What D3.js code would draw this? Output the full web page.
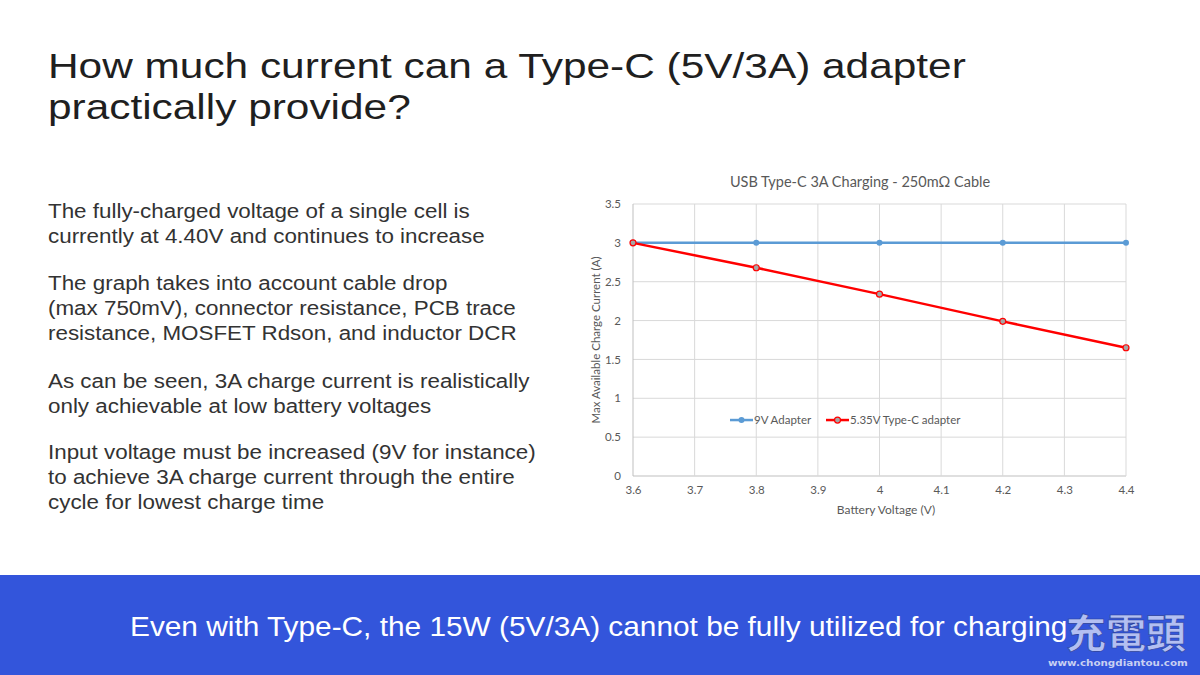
<!DOCTYPE html>
<html>
<head>
<meta charset="utf-8">
<script src="https://cdn.jsdelivr.net/npm/d3@7"></script>
<style>
  html, body { margin: 0; padding: 0; background: #fff; }
  svg { display: block; }
</style>
</head>
<body>
<div id="slide"></div>
<script>
// Datos de la gráfica
const batteryVoltage = [3.6, 3.8, 4.0, 4.2, 4.4];
const adapter9V = [3, 3, 3, 3, 3];
const adapterTypeC = [3, 2.68, 2.34, 1.99, 1.65];
const seriesNames = ["9V Adapter", "5.35V Type-C adapter"];
const xTicks = [3.6, 3.7, 3.8, 3.9, 4.0, 4.1, 4.2, 4.3, 4.4];
const yTicks = [0, 0.5, 1, 1.5, 2, 2.5, 3, 3.5];

const titleLines = ["How much current can a Type-C (5V/3A) adapter", "practically provide?"];
const bodyParagraphs = [
    ["The fully-charged voltage of a single cell is", "currently at 4.40V and continues to increase"],
    ["The graph takes into account cable drop", "(max 750mV), connector resistance, PCB trace", "resistance, MOSFET Rdson, and inductor DCR"],
    ["As can be seen, 3A charge current is realistically", "only achievable at low battery voltages"],
    ["Input voltage must be increased (9V for instance)", "to achieve 3A charge current through the entire", "cycle for lowest charge time"]
];
const footerText = "Even with Type-C, the 15W (5V/3A) cannot be fully utilized for charging";

const W = 1200, H = 675;
const slideFont = "Liberation Sans, Arial, sans-serif";
const svg = d3.select("#slide").append("svg").attr("width", W).attr("height", H);

// Estira horizontalmente un bloque de texto para que la línea de referencia mida 'width'
function stretchBlock(sel, x0, refNode, width) {
    const s = width / refNode.getComputedTextLength();
    sel.attr("x", 0).attr("transform", function () {
        return `translate(${x0},0) scale(${s},1)`;
    });
}

// Título de la diapositiva
const title = svg.append("g").selectAll("text").data(titleLines).enter().append("text")
    .attr("y", (d, i) => 78 + i * 41)
    .attr("font-family", slideFont)
    .attr("font-size", 36)
    .attr("fill", "#1f1f1f")
    .text(d => d);
stretchBlock(title, 48, title.nodes()[0], 918);

// Texto de la izquierda
const paraBase = [218, 290, 388, 459];
const bodyLines = [];
bodyParagraphs.forEach((para, p) => {
    para.forEach((t, i) => bodyLines.push({ t, y: paraBase[p] + i * 25 }));
});
const body = svg.append("g").selectAll("text").data(bodyLines).enter().append("text")
    .attr("y", d => d.y)
    .attr("font-family", slideFont)
    .attr("font-size", 20)
    .attr("fill", "#333")
    .text(d => d.t);
stretchBlock(body, 48, body.nodes()[0], 422);

// Banda inferior
svg.append("rect").attr("x", 0).attr("y", 575).attr("width", W).attr("height", H - 575).attr("fill", "#3355db");
const footer = svg.append("text")
    .attr("y", 636)
    .attr("font-family", slideFont)
    .attr("font-size", 28.5)
    .attr("fill", "#fff")
    .text(footerText);
stretchBlock(footer, 130, footer.node(), 938);

// Marca de agua
svg.append("text")
    .attr("x", 1126).attr("y", 648)
    .attr("text-anchor", "middle")
    .attr("font-family", "Noto Sans CJK TC, Noto Sans CJK SC, sans-serif")
    .attr("font-weight", "bold")
    .attr("font-size", 40)
    .attr("fill", "#b3bff2")
    .attr("stroke", "#2a3f9a")
    .attr("stroke-width", 0.6)
    .text("充電頭");
const url = svg.append("text")
    .attr("y", 666)
    .attr("font-family", "DejaVu Sans, sans-serif")
    .attr("font-weight", "bold")
    .attr("font-size", 9)
    .attr("fill", "#c8d0f2")
    .text("www.chongdiantou.com");
stretchBlock(url, 1048, url.node(), 140);

// Gráfica
const x = d3.scaleLinear().domain([3.6, 4.4]).range([633, 1126]);
const y = d3.scaleLinear().domain([0, 3.5]).range([476, 204]);
const chartFont = "Lato, Open Sans, sans-serif";
const chart = svg.append("g");

chart.append("text")
    .attr("x", 860).attr("y", 187)
    .attr("text-anchor", "middle")
    .attr("font-family", chartFont)
    .attr("font-size", 14.5)
    .attr("fill", "#595959")
    .text("USB Type-C 3A Charging - 250m\u03A9 Cable");

// Líneas de cuadrícula
chart.append("g").selectAll("line").data(yTicks).enter().append("line")
    .attr("x1", x(3.6)).attr("x2", x(4.4))
    .attr("y1", d => y(d)).attr("y2", d => y(d))
    .attr("stroke", d => d === 0 ? "#bfbfbf" : "#d9d9d9").attr("stroke-width", 1);
chart.append("g").selectAll("line").data(xTicks).enter().append("line")
    .attr("x1", d => x(d)).attr("x2", d => x(d))
    .attr("y1", y(0)).attr("y2", y(3.5))
    .attr("stroke", d => d === 3.6 ? "#bfbfbf" : "#d9d9d9").attr("stroke-width", 1);

// Ejes
const xAxis = chart.append("g").attr("transform", `translate(0,${y(0)})`)
    .call(d3.axisBottom(x).tickValues(xTicks).tickSize(0).tickPadding(10).tickFormat(d3.format("~g")));
const yAxis = chart.append("g").attr("transform", `translate(${x(3.6)},0)`)
    .call(d3.axisLeft(y).tickValues(yTicks).tickSize(0).tickPadding(12).tickFormat(d3.format("~g")));
[xAxis, yAxis].forEach(a => {
    a.select(".domain").remove();
    a.selectAll("text").attr("font-family", chartFont).attr("font-size", 11.5).attr("fill", "#595959");
});

chart.append("text")
    .attr("x", 886).attr("y", 514)
    .attr("text-anchor", "middle")
    .attr("font-family", chartFont).attr("font-size", 12).attr("fill", "#595959")
    .text("Battery Voltage (V)");
chart.append("text")
    .attr("transform", "translate(600,340) rotate(-90)")
    .attr("text-anchor", "middle")
    .attr("font-family", chartFont).attr("font-size", 11.5).attr("fill", "#595959")
    .text("Max Available Charge Current (A)");

// Series
const line = d3.line().x(d => x(d[0])).y(d => y(d[1]));
const blueData = batteryVoltage.map((v, i) => [v, adapter9V[i]]);
const redData = batteryVoltage.map((v, i) => [v, adapterTypeC[i]]);

chart.append("path").datum(blueData).attr("d", line)
    .attr("fill", "none").attr("stroke", "#5b9bd5").attr("stroke-width", 2.5);
chart.append("g").selectAll("circle").data(blueData).enter().append("circle")
    .attr("cx", d => x(d[0])).attr("cy", d => y(d[1])).attr("r", 3)
    .attr("fill", "#5b9bd5");

chart.append("path").datum(redData).attr("d", line)
    .attr("fill", "none").attr("stroke", "#ff0000").attr("stroke-width", 2.5);
chart.append("g").selectAll("circle").data(redData).enter().append("circle")
    .attr("cx", d => x(d[0])).attr("cy", d => y(d[1])).attr("r", 3)
    .attr("fill", "#a5a5a5").attr("stroke", "#ff0000").attr("stroke-width", 1.2);

// Leyenda
const legendY = y(0.72);
const legend = chart.append("g");
const legendItems = [
    { name: seriesNames[0], x0: 730, color: "#5b9bd5", fill: "#5b9bd5" },
    { name: seriesNames[1], x0: 826, color: "#ff0000", fill: "#a5a5a5" }
];
legendItems.forEach(it => {
    legend.append("line").attr("x1", it.x0).attr("x2", it.x0 + 23)
        .attr("y1", legendY).attr("y2", legendY)
        .attr("stroke", it.color).attr("stroke-width", 2.5);
    legend.append("circle").attr("cx", it.x0 + 11.5).attr("cy", legendY).attr("r", 3)
        .attr("fill", it.fill).attr("stroke", it.color).attr("stroke-width", it.fill === it.color ? 0 : 1.2);
    legend.append("text").attr("x", it.x0 + 24).attr("y", legendY + 4)
        .attr("font-family", chartFont).attr("font-size", 11.5).attr("fill", "#595959")
        .text(it.name);
});
</script>
</body>
</html>
